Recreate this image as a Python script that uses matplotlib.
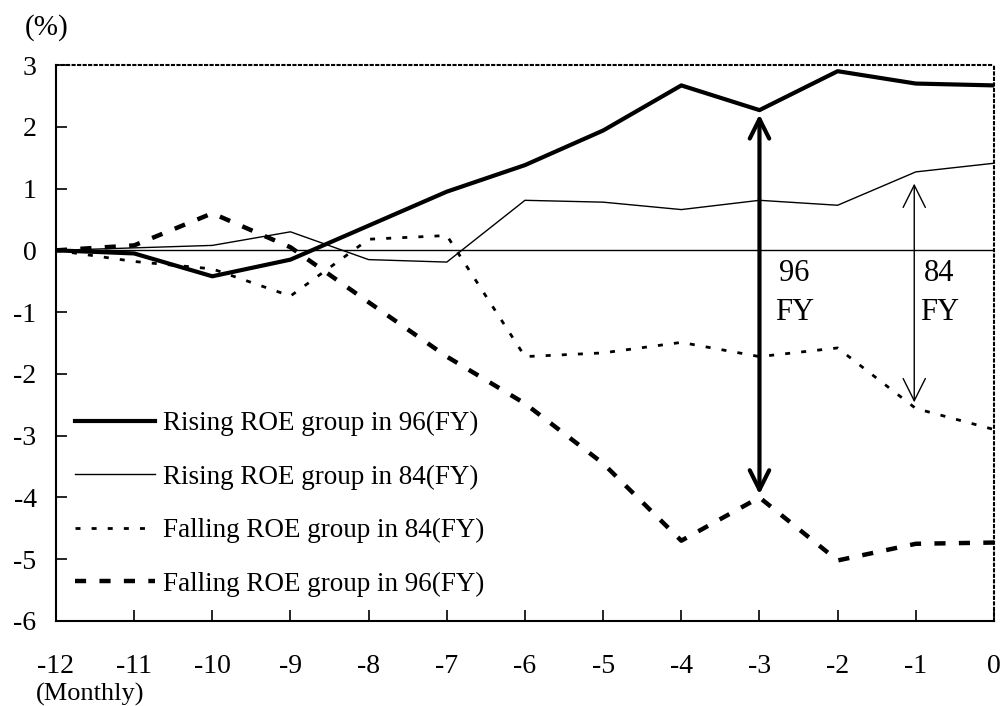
import matplotlib
matplotlib.use("Agg")
import matplotlib.pyplot as plt

plt.rcParams['font.family'] = ['Liberation Serif', 'DejaVu Serif']
plt.rcParams['axes.unicode_minus'] = False

# months before the event (x axis)
months = [-12, -11, -10, -9, -8, -7, -6, -5, -4, -3, -2, -1, 0]

# cumulative excess return (%)
rising_96 = [0, -0.05, -0.42, -0.15, 0.4, 0.95, 1.38, 1.94, 2.67, 2.27, 2.9, 2.7, 2.67]
rising_84 = [0, 0.04, 0.08, 0.3, -0.15, -0.19, 0.81, 0.78, 0.66, 0.81, 0.73, 1.27, 1.41]
falling_84 = [0, -0.18, -0.3, -0.74, 0.18, 0.24, -1.72, -1.66, -1.49, -1.72, -1.58, -2.56, -2.9]
falling_96 = [0, 0.08, 0.6, 0.05, -0.84, -1.72, -2.48, -3.45, -4.7, -4.0, -5.02, -4.75, -4.73]

labels = ['Rising ROE group in 96(FY)', 'Rising ROE group in 84(FY)',
          'Falling ROE group in 84(FY)', 'Falling ROE group in 96(FY)']

yticks = [3, 2, 1, 0, -1, -2, -3, -4, -5, -6]

fig = plt.figure(figsize=(10.03, 7.06), dpi=100)
ax = fig.add_axes([0.0558, 0.1204, 0.9352, 0.7875])

ax.plot(months, rising_96, color='black', lw=3.0, label=labels[0])
ax.plot(months, rising_84, color='black', lw=1.0, label=labels[1])
ax.plot(months, falling_84, color='black', lw=2.0, dashes=(1.8, 4), label=labels[2])
ax.plot(months, falling_96, color='black', lw=3.2, dashes=(2.5, 3), label=labels[3])

ax.axhline(0, color='black', lw=1.0)

# spread arrows
ax.annotate('', xy=(-3, 2.2), xytext=(-3, -3.95),
            arrowprops=dict(arrowstyle='<->,head_length=0.7,head_width=0.35',
                            lw=3, color='black', mutation_scale=20,
                            shrinkA=0, shrinkB=0))
ax.annotate('', xy=(-1.02, 1.08), xytext=(-1.02, -2.46),
            arrowprops=dict(arrowstyle='<->,head_length=0.8,head_width=0.4',
                            lw=1, color='black', mutation_scale=20,
                            shrinkA=0, shrinkB=0))
ax.text(-2.55, -0.38, '96', fontsize=22, ha='center', va='center')
ax.text(-2.55, -1.0, 'FY', fontsize=22, ha='center', va='center')
ax.text(-0.7, -0.38, '84', fontsize=22, ha='center', va='center')
ax.text(-0.7, -1.0, 'FY', fontsize=22, ha='center', va='center')

ax.set_xlim(-12, 0)
ax.set_ylim(-6, 3)
ax.set_xticks(months)
ax.set_xticklabels([str(m) for m in months])
ax.set_yticks(yticks)
ax.set_yticklabels([str(v) for v in yticks])
ax.tick_params(axis='y', direction='in', length=8, width=1.2, pad=14, labelsize=20)
ax.tick_params(axis='x', direction='in', length=8, width=1.2, pad=24, labelsize=20)

for s in ['left', 'bottom']:
    ax.spines[s].set_linewidth(1.5)
for s in ['top', 'right']:
    ax.spines[s].set_linestyle(':')
    ax.spines[s].set_linewidth(1.5)

fig.text(25 / 1003, 1 - 28 / 706, '(%)', fontsize=21, va='center', ha='left')
fig.text(90 / 1003, 1 - 694 / 706, '(Monthly)', fontsize=19, va='center', ha='center')

ax.legend(loc='upper left', bbox_to_anchor=(0.02, 0.378), frameon=False,
          fontsize=19.5, handlelength=2.95, handletextpad=0.3, labelspacing=1.05,
          borderpad=0, borderaxespad=0)

fig.savefig('out.png', dpi=100)
